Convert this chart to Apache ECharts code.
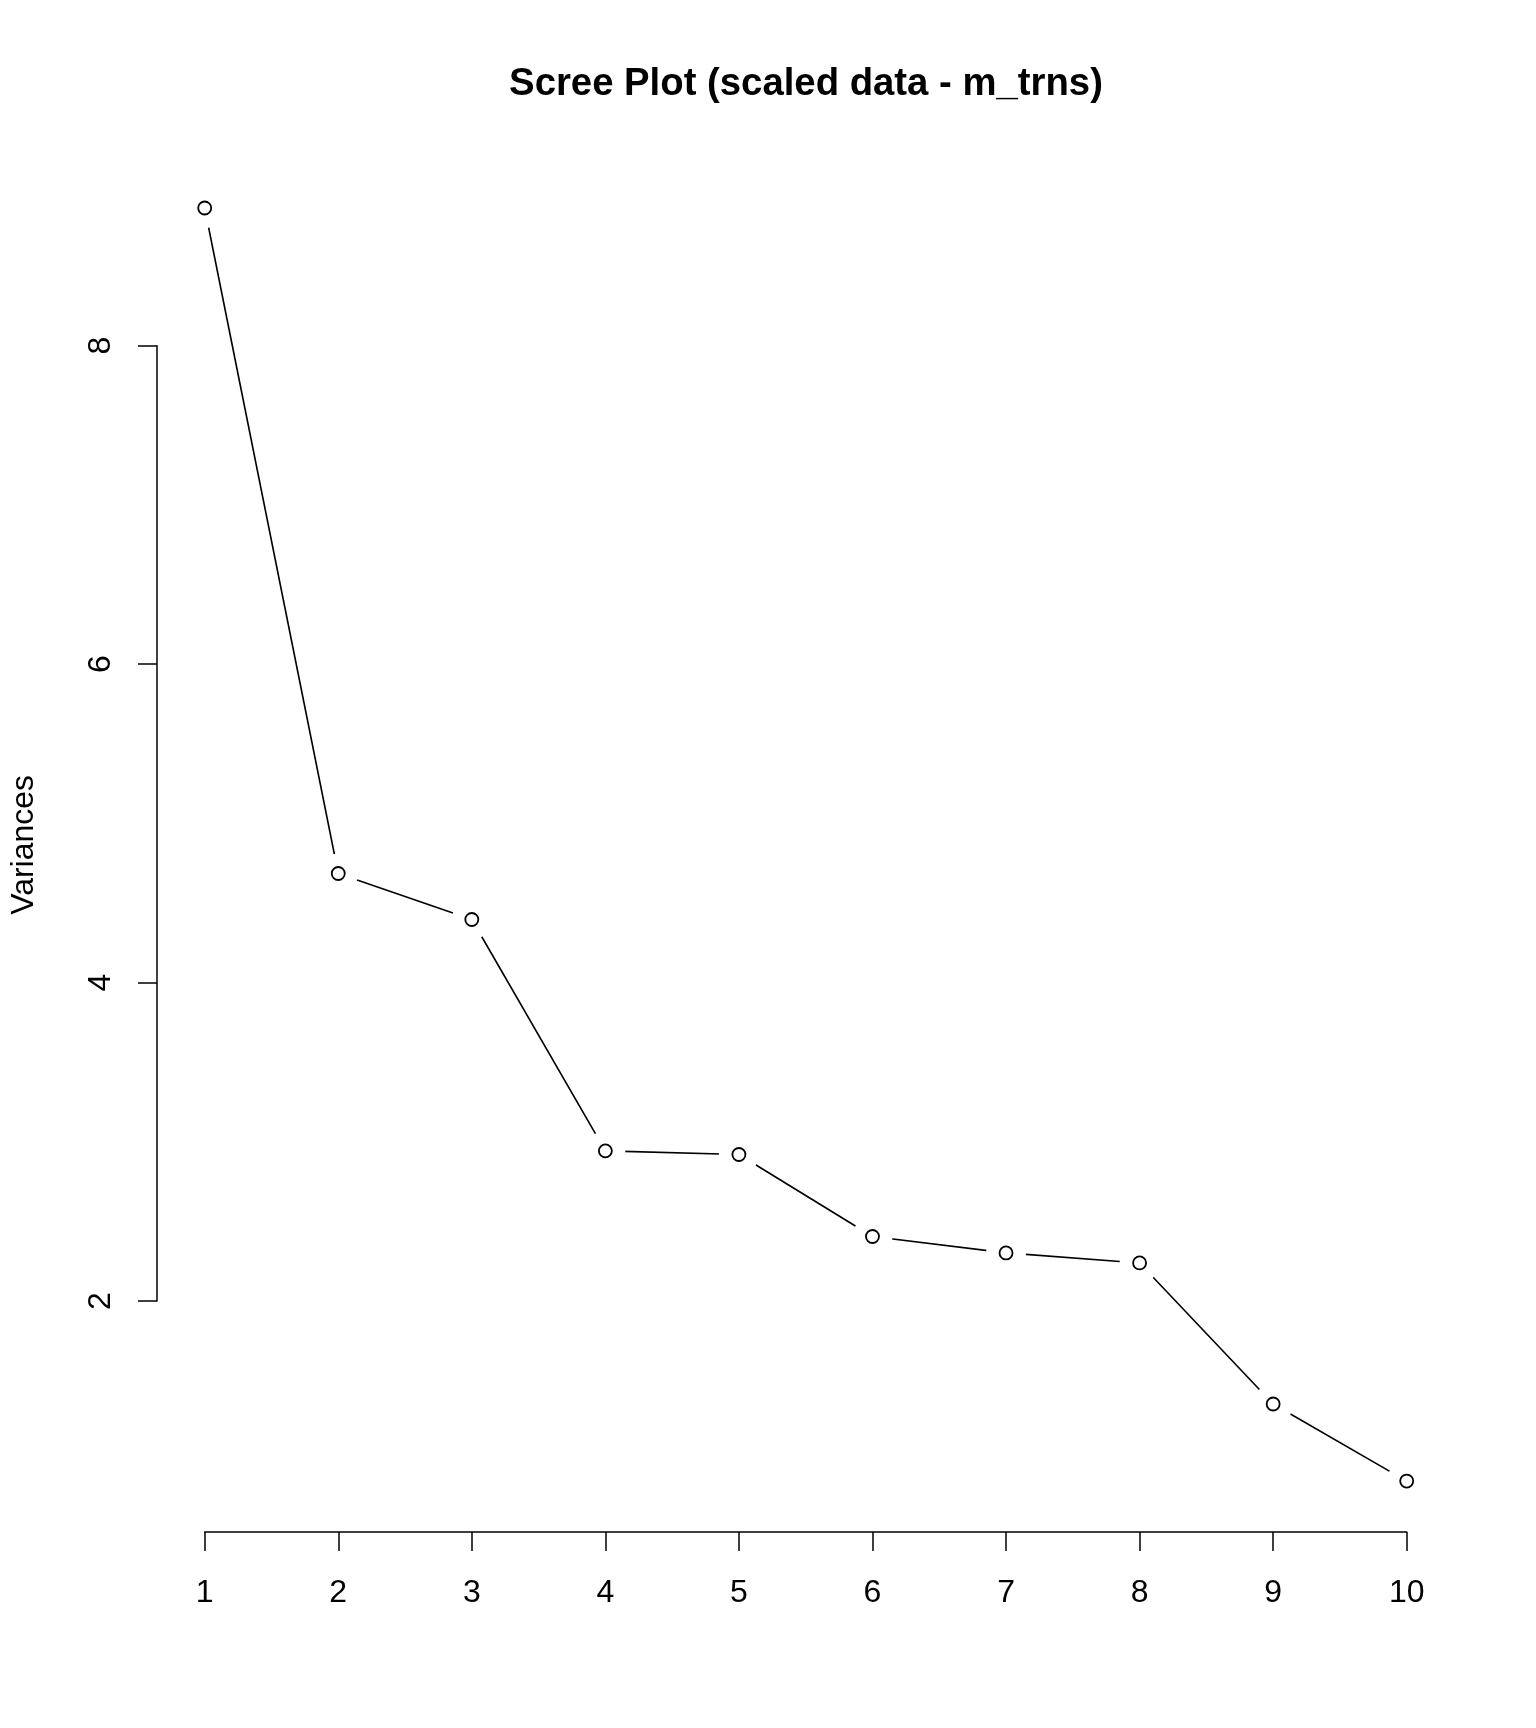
<!DOCTYPE html>
<html>
<head>
<meta charset="utf-8">
<script src="https://cdn.jsdelivr.net/npm/echarts@6/dist/echarts.min.js"></script>
<style>
html,body{margin:0;padding:0;background:#fff;}
#chart{width:1536px;height:1728px;}
</style>
</head>
<body>
<div id="chart"></div>
<script>
// Data
const chartTitle = 'Scree Plot (scaled data - m_trns)';
const yAxisTitle = 'Variances';
const components = [1, 2, 3, 4, 5, 6, 7, 8, 9, 10];
const variances = [8.865, 4.685, 4.396, 2.943, 2.920, 2.405, 2.302, 2.239, 1.353, 0.869];
const xTickMin = 1, xTickMax = 10, xTickStep = 1;
const yTickMin = 2, yTickMax = 8, yTickStep = 2;

const points = components.map((c, i) => [c, variances[i]]);
const FONT = '"Liberation Sans", Arial, sans-serif';

const chart = echarts.init(document.getElementById('chart'), null, {renderer: 'canvas'});
chart.setOption({
  backgroundColor: '#ffffff',
  animation: false,
  title: {
    text: chartTitle,
    left: 801,
    top: 60,
    textAlign: 'center',
    textStyle: {fontFamily: FONT, fontWeight: 'bold', fontSize: 38.3, lineHeight: 38, color: '#000'}
  },
  grid: {
    left: 204.7,
    right: 129.3,
    top: 345.7,
    bottom: 427,
    containLabel: false,
    outerBoundsMode: 'none'
  },
  xAxis: {
    type: 'value',
    min: xTickMin,
    max: xTickMax,
    interval: xTickStep,
    offset: 231,
    splitLine: {show: false},
    axisLine: {show: true, onZero: false, lineStyle: {color: '#000', width: 1.5}},
    axisTick: {show: true, length: 19, lineStyle: {color: '#000', width: 1.5}},
    axisLabel: {color: '#000', fontFamily: FONT, fontSize: 32, margin: 45}
  },
  yAxis: {
    type: 'value',
    min: yTickMin,
    max: yTickMax,
    interval: yTickStep,
    offset: 47.7,
    name: yAxisTitle,
    nameLocation: 'middle',
    nameRotate: 90,
    nameGap: 117,
    nameTextStyle: {color: '#000', fontFamily: FONT, fontSize: 32, padding: [0, 43, 0, 0]},
    splitLine: {show: false},
    axisLine: {show: true, onZero: false, lineStyle: {color: '#000', width: 1.5}},
    axisTick: {show: true, length: 19, lineStyle: {color: '#000', width: 1.5}},
    axisLabel: {color: '#000', fontFamily: FONT, fontSize: 32, margin: 40, rotate: 90}
  },
  series: [
    {
      type: 'line',
      data: points,
      clip: false,
      symbol: 'circle',
      symbolSize: 40,
      showAllSymbol: true,
      itemStyle: {color: '#ffffff', borderWidth: 0},
      lineStyle: {color: '#000', width: 1.6},
      z: 2
    },
    {
      type: 'scatter',
      data: points,
      clip: false,
      symbol: 'circle',
      symbolSize: 13,
      itemStyle: {color: '#ffffff', borderColor: '#000', borderWidth: 1.8, opacity: 1},
      z: 3
    }
  ]
});
</script>
</body>
</html>
